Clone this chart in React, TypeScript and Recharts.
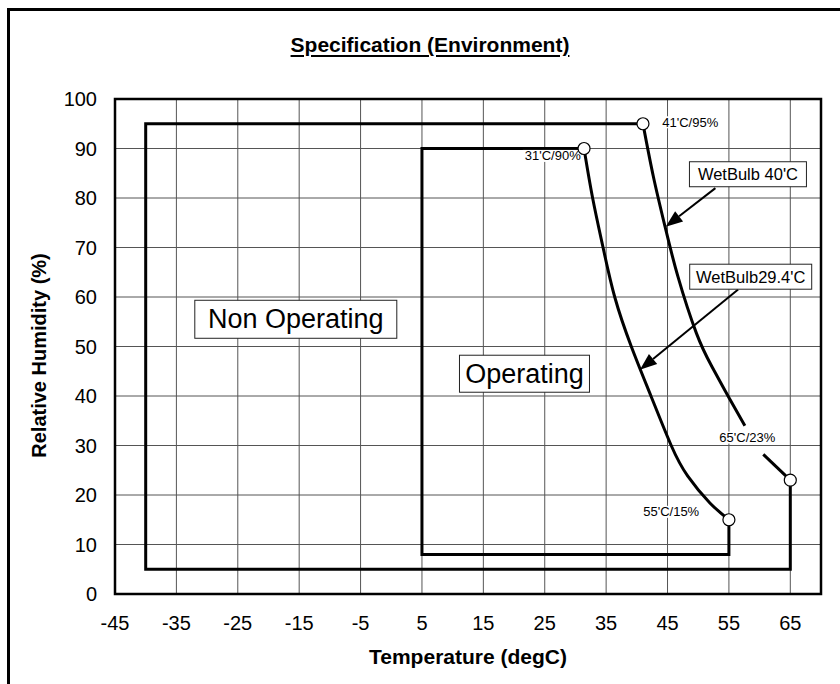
import {
  CartesianGrid,
  ComposedChart,
  Label,
  Line,
  ReferenceArea,
  ReferenceDot,
  ReferenceLine,
  Scatter,
  XAxis,
  YAxis,
} from "recharts";

// axis ticks
const xTicks = [-45, -35, -25, -15, -5, 5, 15, 25, 35, 45, 55, 65];
const xMinorTicks = [-45, -40, -35, -30, -25, -20, -15, -10, -5, 0, 5, 10, 15, 20, 25, 30, 35, 40, 45, 50, 55, 60, 65, 70];
const yTicks = [0, 10, 20, 30, 40, 50, 60, 70, 80, 90, 100];
const yMinorTicks = [5, 10, 15, 20, 25, 30, 35, 40, 45, 50, 55, 60, 65, 70, 75, 80, 85, 90, 95];

// envelopes (degC / %RH)
const nonOpT = [41, -40, -40, 65, 65];
const nonOpRH = [95, 95, 5, 5, 23];
const opT = [31.4, 5, 5, 55, 55];
const opRH = [90, 90, 8, 8, 15];

// wet bulb curves (40'C one is broken by its label)
const wb40T = [41, 42.7, 44.6, 46.7, 49.7, 52.2, 54.9, 57.6];
const wb40RH = [95, 84.3, 74.2, 64.1, 52.7, 46, 39.9, 34];
const wb40TailT = [60.6, 65];
const wb40TailRH = [28.2, 23];
const wb294T = [31.4, 32.8, 34.5, 36.4, 39.1, 42.3, 45.6, 48.3, 51.9, 55];
const wb294RH = [90, 80, 70, 60, 50, 40, 30, 23.8, 18.4, 15];

// corner points
const cornerT = [41, 31.4, 55, 65];
const cornerRH = [95, 90, 15, 23];

// point labels
const pointLabelText = ["41'C/95%", "31'C/90%", "65'C/23%", "55'C/15%"];
const pointLabelT = [48.7, 26.3, 58.0, 45.6];
const pointLabelRH = [95.3, 88.5, 31.6, 16.6];

// boxed callouts
const calloutText = ["WetBulb 40'C", "WetBulb29.4'C", "Non Operating", "Operating"];
const calloutT = [58.1, 58.55, -15.55, 21.7];
const calloutRH = [84.8, 64.1, 55.5, 44.5];

// arrows
const arrowFromT = [52.8, 56.5];
const arrowFromRH = [82.0, 61.5];
const arrowToT = [44.7, 40.5];
const arrowToRH = [74.2, 45.3];

const zip = (t: number[], rh: number[]) => t.map((v, i) => ({ t: v, rh: rh[i] }));

const nonOpData = zip(nonOpT, nonOpRH);
const opData = zip(opT, opRH);
const wb40Data = zip(wb40T, wb40RH);
const wb40TailData = zip(wb40TailT, wb40TailRH);
const wb294Data = zip(wb294T, wb294RH);
const cornerData = zip(cornerT, cornerRH);

const FONT = "Arial, 'Liberation Sans', sans-serif";
const calloutStyle = [
  { w: 117, h: 25, size: 16.5 },
  { w: 122, h: 25, size: 16.5 },
  { w: 202, h: 38, size: 27 },
  { w: 130, h: 37, size: 27 },
];

function Arrow(props: any) {
  const { x1, y1, x2, y2 } = props;
  const dx = x2 - x1;
  const dy = y2 - y1;
  const len = Math.sqrt(dx * dx + dy * dy);
  const ux = dx / len;
  const uy = dy / len;
  const hl = 17;
  const hw = 6.5;
  const bx = x2 - ux * hl;
  const by = y2 - uy * hl;
  return (
    <g>
      <line x1={x1} y1={y1} x2={bx} y2={by} stroke="#000" strokeWidth={2} />
      <polygon
        points={`${x2},${y2} ${bx - uy * hw},${by + ux * hw} ${bx + uy * hw},${by - ux * hw}`}
        fill="#000"
      />
    </g>
  );
}

const pointLabel = (text: string) => (props: any) => {
  const { cx, cy } = props;
  return (
    <g>
      <rect x={cx - 30} y={cy - 6} width={60} height={12} fill="#fff" />
      <text x={cx} y={cy} textAnchor="middle" dominantBaseline="central" fontSize={13} fill="#000" fontFamily={FONT}>
        {text}
      </text>
    </g>
  );
};

const callout = (i: number) => (props: any) => {
  const { cx, cy } = props;
  const s = calloutStyle[i];
  return (
    <g>
      <rect x={cx - s.w / 2} y={cy - s.h / 2} width={s.w} height={s.h} fill="#fff" stroke="#222" strokeWidth={1} />
      <text x={cx} y={cy} textAnchor="middle" dominantBaseline="central" fontSize={s.size} fill="#000" fontFamily={FONT}>
        {calloutText[i]}
      </text>
    </g>
  );
};

const cornerDot = (props: any) => (
  <circle cx={props.cx} cy={props.cy} r={6} fill="#fff" stroke="#000" strokeWidth={1.2} />
);

export default function App() {
  return (
    <div style={{ position: "absolute", left: 0, top: 0, width: 840, height: 684, background: "#fff", overflow: "hidden", fontFamily: FONT }}>
      <div
        style={{
          position: "absolute",
          left: 7,
          top: 8,
          width: 900,
          height: 800,
          borderLeft: "3px solid #000",
          borderTop: "3px solid #000",
        }}
      />
      <div
        style={{
          position: "absolute",
          left: 0,
          top: 33,
          width: 860,
          textAlign: "center",
          fontWeight: "bold",
          fontSize: 21,
          lineHeight: "24px",
          textDecoration: "underline",
          textUnderlineOffset: 3,
        }}
      >
        Specification (Environment)
      </div>
      <ComposedChart
        width={840}
        height={684}
        margin={{ top: 99, right: 19, bottom: 0, left: 0 }}
        style={{ position: "absolute", left: 0, top: 0 }}
      >
        <CartesianGrid stroke="#555" strokeWidth={1} />
        <XAxis
          dataKey="t"
          type="number"
          domain={[-45, 70]}
          ticks={xTicks}
          allowDataOverflow
          height={90}
          tickSize={0}
          tickLine={false}
          axisLine={false}
          tickMargin={22}
          tick={{ fontSize: 20, fill: "#000", fontFamily: FONT }}
        >
          <Label
            content={({ viewBox }: any) => (
              <text
                x={viewBox.x + viewBox.width / 2}
                y={viewBox.y + 70}
                textAnchor="middle"
                fontSize={21}
                fontWeight="bold"
                fill="#000"
                fontFamily={FONT}
              >
                Temperature (degC)
              </text>
            )}
          />
        </XAxis>
        <XAxis
          xAxisId="minor"
          type="number"
          domain={[-45, 70]}
          ticks={xMinorTicks}
          allowDataOverflow
          mirror
          height={0}
          tick={false}
          tickSize={5}
          axisLine={false}
          tickLine={{ stroke: "#000", strokeWidth: 1 }}
        />
        <YAxis
          type="number"
          domain={[0, 100]}
          ticks={yTicks}
          allowDataOverflow
          width={115}
          tickSize={0}
          tickLine={false}
          axisLine={false}
          tickMargin={18}
          tick={{ fontSize: 20, fill: "#000", fontFamily: FONT }}
        >
          <Label
            content={({ viewBox }: any) => {
              const cx = viewBox.x + 39;
              const cy = viewBox.y + viewBox.height / 2 + 9;
              return (
                <text
                  x={cx}
                  y={cy}
                  transform={`rotate(-90, ${cx}, ${cy})`}
                  textAnchor="middle"
                  dominantBaseline="central"
                  fontSize={20}
                  fontWeight="bold"
                  fill="#000"
                  fontFamily={FONT}
                >
                  Relative Humidity (%)
                </text>
              );
            }}
          />
        </YAxis>
        <YAxis
          yAxisId="minor"
          type="number"
          domain={[0, 100]}
          ticks={yMinorTicks}
          allowDataOverflow
          mirror
          width={0}
          tick={false}
          tickSize={5}
          axisLine={false}
          tickLine={{ stroke: "#000", strokeWidth: 1 }}
        />

        {pointLabelText.map((txt, i) => (
          <ReferenceDot
            key={txt}
            x={pointLabelT[i]}
            y={pointLabelRH[i]}
            r={1}
            shape={pointLabel(txt)}
          />
        ))}

        <Line data={nonOpData} dataKey="rh" type="linear" stroke="#000" strokeWidth={3} strokeLinejoin="miter" dot={false} isAnimationActive={false} />
        <Line data={opData} dataKey="rh" type="linear" stroke="#000" strokeWidth={3} strokeLinejoin="miter" dot={false} isAnimationActive={false} />
        <Line data={wb40Data} dataKey="rh" type="natural" stroke="#000" strokeWidth={3} dot={false} isAnimationActive={false} />
        <Line data={wb40TailData} dataKey="rh" type="linear" stroke="#000" strokeWidth={3} dot={false} isAnimationActive={false} />
        <Line data={wb294Data} dataKey="rh" type="natural" stroke="#000" strokeWidth={3} dot={false} isAnimationActive={false} />

        <ReferenceArea x1={-45} x2={70} y1={0} y2={100} fill="none" stroke="#000" strokeWidth={2.5} />

        {calloutText.map((txt, i) => (
          <ReferenceDot key={txt} x={calloutT[i]} y={calloutRH[i]} r={1} shape={callout(i)} />
        ))}

        {arrowFromT.map((t, i) => (
          <ReferenceLine
            key={i}
            segment={[
              { x: t, y: arrowFromRH[i] },
              { x: arrowToT[i], y: arrowToRH[i] },
            ]}
            shape={Arrow}
          />
        ))}

        <Scatter data={cornerData} dataKey="rh" shape={cornerDot} isAnimationActive={false} />
      </ComposedChart>
    </div>
  );
}
